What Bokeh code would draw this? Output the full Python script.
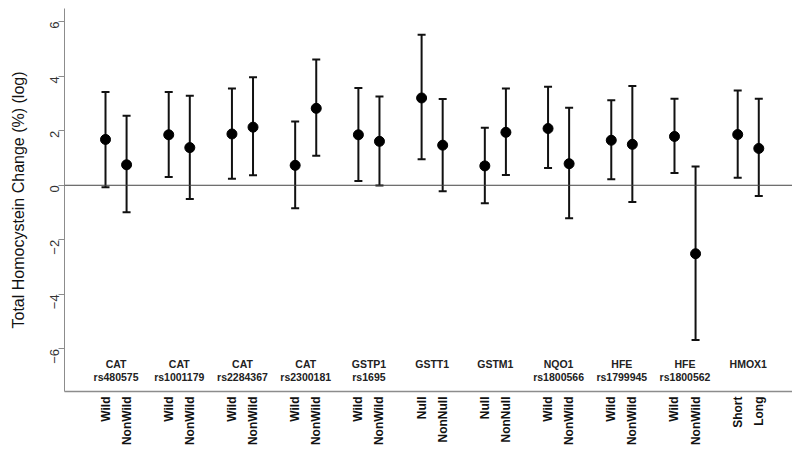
import math
from bokeh.plotting import figure
from bokeh.models import ColumnDataSource, FixedTicker, Span, Whisker, TeeHead
from bokeh.core.properties import value
from bokeh.embed import file_html
from bokeh.resources import INLINE

# ---- data ----
genes = ["CAT", "CAT", "CAT", "CAT", "GSTP1", "GSTT1", "GSTM1", "NQO1", "HFE", "HFE", "HMOX1"]
snps = ["rs480575", "rs1001179", "rs2284367", "rs2300181", "rs1695", "", "",
        "rs1800566", "rs1799945", "rs1800562", ""]
levels = ["Wild", "NonWild", "Wild", "NonWild", "Wild", "NonWild", "Wild", "NonWild",
          "Wild", "NonWild", "Null", "NonNull", "Null", "NonNull", "Wild", "NonWild",
          "Wild", "NonWild", "Wild", "NonWild", "Short", "Long"]
estimate = [1.68, 0.75, 1.85, 1.38, 1.88, 2.13, 0.73, 2.82, 1.85, 1.61,
            3.20, 1.47, 0.71, 1.94, 2.08, 0.79, 1.65, 1.50, 1.79, -2.51, 1.86, 1.35]
upper = [3.42, 2.55, 3.42, 3.28, 3.55, 3.96, 2.34, 4.61, 3.57, 3.25,
         5.52, 3.16, 2.11, 3.55, 3.61, 2.84, 3.12, 3.64, 3.17, 0.69, 3.47, 3.17]
lower = [-0.07, -0.99, 0.30, -0.50, 0.24, 0.37, -0.84, 1.08, 0.16, -0.01,
         0.95, -0.22, -0.66, 0.38, 0.63, -1.21, 0.22, -0.61, 0.45, -5.67, 0.28, -0.39]
y_ticks = [-6, -4, -2, 0, 2, 4, 6]

# ---- positions (two per gene, gap between genes) ----
xpos = []
for g in range(len(genes)):
    xpos += [3 * g + 1, 3 * g + 2]
centers = [3 * g + 1.5 for g in range(len(genes))]

FONT = "Liberation Sans"

p = figure(width=792, height=448, x_range=(-0.946, 33.60), y_range=(-7.56, 6.48),
           output_backend="svg", toolbar_location=None,
           min_border_left=64, min_border_right=0, min_border_top=8, min_border_bottom=56)
p.outline_line_color = None
p.xgrid.grid_line_color = None
p.ygrid.grid_line_color = None
p.background_fill_color = "white"
p.border_fill_color = "white"

# y axis
p.yaxis.ticker = FixedTicker(ticks=y_ticks)
p.yaxis.minor_tick_line_color = None
p.yaxis.major_tick_out = 6
p.yaxis.major_tick_in = 0
p.yaxis.major_label_orientation = math.pi / 2
p.yaxis.major_label_standoff = 4
p.yaxis.major_label_text_font = FONT
p.yaxis.major_label_text_font_size = "13px"
p.yaxis.major_label_text_color = "#333333"
p.yaxis.axis_line_color = "#8c8c8c"
p.yaxis.major_tick_line_color = "#8c8c8c"
p.yaxis.axis_label = "Total Homocystein Change (%) (log)"
p.yaxis.axis_label_text_font = FONT
p.yaxis.axis_label_text_font_style = "normal"
p.yaxis.axis_label_text_font_size = "16px"
p.yaxis.axis_label_text_color = "#111111"
p.yaxis.axis_label_standoff = 16

# x axis
p.xaxis.ticker = FixedTicker(ticks=xpos)
p.xaxis.major_label_overrides = {x: lab for x, lab in zip(xpos, levels)}
p.xaxis.minor_tick_line_color = None
p.xaxis.major_tick_out = 0
p.xaxis.major_tick_in = 0
p.xaxis.major_label_orientation = math.pi / 2
p.xaxis.major_label_standoff = 5
p.xaxis.major_label_text_font = FONT
p.xaxis.major_label_text_font_style = "bold"
p.xaxis.major_label_text_font_size = "12px"
p.xaxis.major_label_text_color = "#111111"
p.xaxis.axis_line_color = "#8c8c8c"
p.xaxis.axis_line_width = 1.5

# zero line
p.add_layout(Span(location=0, dimension="width", line_color="#444444", line_width=1))

# error bars
src = ColumnDataSource(dict(x=xpos, est=estimate, hi=upper, lo=lower))
p.add_layout(Whisker(base="x", upper="hi", lower="lo", source=src,
                     line_width=2, line_color="#111111",
                     upper_head=TeeHead(size=8, line_width=2, line_color="#111111"),
                     lower_head=TeeHead(size=8, line_width=2, line_color="#111111")))
p.scatter("x", "est", source=src, size=10, color="black")

# gene labels inside plot
lab = ColumnDataSource(dict(x=centers, g=genes, s=snps, y1=[-6.55] * len(genes), y2=[-7.04] * len(genes)))
p.text("x", "y1", text="g", source=lab, text_align="center", text_baseline="middle",
       text_font=value(FONT), text_font_style="bold", text_font_size="10.5px", text_color="#222222")
p.text("x", "y2", text="s", source=lab, text_align="center", text_baseline="middle",
       text_font=value(FONT), text_font_style="bold", text_font_size="10.5px", text_color="#222222")

open("out.html", "w").write(file_html(p, INLINE))
